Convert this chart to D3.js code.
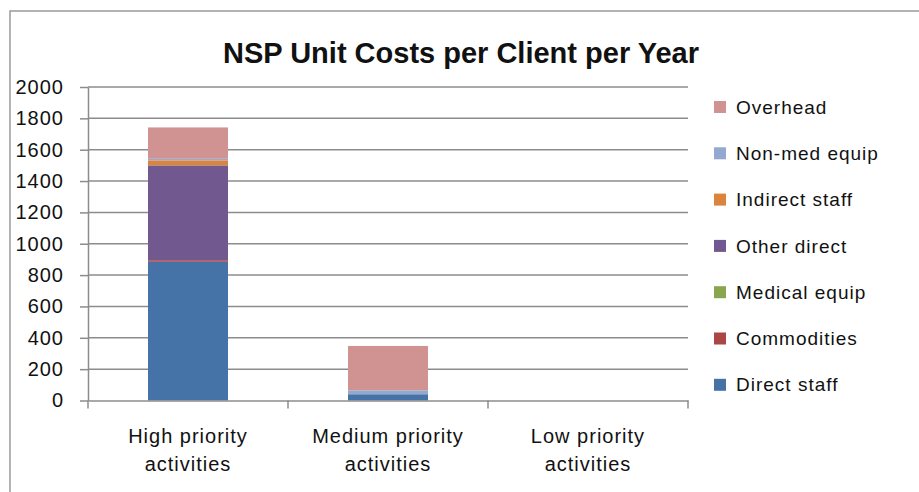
<!DOCTYPE html>
<html>
  <body style="margin:0">
    <style>
      body { background: #fff; }
      text { font-family: "Liberation Sans", Arial, sans-serif; fill: #111; }
      .tick line, .domain { stroke: #8c8c8c; stroke-width: 1.5; }
      .grid line { stroke: #8c8c8c; stroke-width: 1.5; }
      .lbl { font-size: 20px; letter-spacing: 1px; }
    </style>
    <script src="https://cdn.jsdelivr.net/npm/d3@7"></script>
    <script type="text/javascript">
      // NSP unit costs, stacked by cost type
      const categories = ['High priority activities', 'Medium priority activities', 'Low priority activities'];
      const categoryLines = [['High priority', 'activities'], ['Medium priority', 'activities'], ['Low priority', 'activities']];
      const seriesNames = ['Direct staff', 'Commodities', 'Medical equip', 'Other direct', 'Indirect staff', 'Non-med equip', 'Overhead'];
      const seriesColors = ['#4572a7', '#aa4643', '#89a54e', '#71588f', '#db843d', '#93a9cf', '#d19392'];

      const directStaff = [885, 40, 0];
      const commodities = [10, 0, 0];
      const medicalEquip = [0, 0, 0];
      const otherDirect = [605, 0, 0];
      const indirectStaff = [32, 0, 0];
      const nonMedEquip = [10, 25, 0];
      const overhead = [200, 283, 0];
      const yTicks = [0, 200, 400, 600, 800, 1000, 1200, 1400, 1600, 1800, 2000];

      const width = 919;
      const height = 492;
      const plot = { left: 88, right: 688, top: 87, bottom: 400.5 };

      const table = categories.map((c, i) => ({
        category: c,
        'Direct staff': directStaff[i],
        'Commodities': commodities[i],
        'Medical equip': medicalEquip[i],
        'Other direct': otherDirect[i],
        'Indirect staff': indirectStaff[i],
        'Non-med equip': nonMedEquip[i],
        'Overhead': overhead[i]
      }));

      const svg = d3.select('body')
        .append('svg')
        .attr('width', width)
        .attr('height', height);

      // chart frame (runs off the picture on the right and bottom)
      svg.append('rect')
        .attr('x', 10).attr('y', 11)
        .attr('width', width + 20).attr('height', height + 20)
        .attr('fill', 'none')
        .attr('stroke', '#9a9a9a')
        .attr('stroke-width', 1.5);

      svg.append('text')
        .attr('x', 461)
        .attr('y', 63)
        .attr('text-anchor', 'middle')
        .style('font-size', '29px')
        .style('font-weight', 'bold')
        .text('NSP Unit Costs per Client per Year');

      const x = d3.scaleBand()
        .domain(categories)
        .range([plot.left, plot.right])
        .paddingInner(0)
        .paddingOuter(0);

      const y = d3.scaleLinear()
        .domain([0, 2000])
        .range([plot.bottom, plot.top]);

      const color = d3.scaleOrdinal().domain(seriesNames).range(seriesColors);

      // gridlines
      svg.append('g')
        .attr('class', 'grid')
        .selectAll('line')
        .data(yTicks.slice(1))
        .enter()
        .append('line')
        .attr('x1', plot.left).attr('x2', plot.right)
        .attr('y1', (d) => y(d)).attr('y2', (d) => y(d));

      const stacked = d3.stack().keys(seriesNames)(table);
      const barWidth = x.bandwidth() * 0.4;

      svg.append('g')
        .selectAll('g')
        .data(stacked)
        .enter()
        .append('g')
        .attr('fill', (d) => color(d.key))
        .selectAll('rect')
        .data((d) => d)
        .enter()
        .append('rect')
        .attr('x', (d) => x(d.data.category) + (x.bandwidth() - barWidth) / 2)
        .attr('width', barWidth)
        .attr('y', (d) => y(d[1]))
        .attr('height', (d) => y(d[0]) - y(d[1]));

      // y axis
      const yAxis = svg.append('g')
        .attr('transform', `translate(${plot.left},0)`)
        .call(d3.axisLeft(y).tickValues(yTicks).tickFormat(d3.format('d'))
          .tickSize(8).tickPadding(16).tickSizeOuter(0));
      yAxis.selectAll('text').attr('class', 'lbl').attr('fill', '#111');

      // x axis
      const xAxis = svg.append('g')
        .attr('transform', `translate(0,${plot.bottom})`)
        .call(d3.axisBottom(x).tickSize(0).tickFormat(''));
      xAxis.selectAll('.tick').remove();
      xAxis.selectAll('.sep')
        .data(d3.range(categories.length + 1))
        .enter()
        .append('line')
        .attr('x1', (i) => plot.left + i * x.step())
        .attr('x2', (i) => plot.left + i * x.step())
        .attr('y1', 0).attr('y2', 8)
        .attr('stroke', '#8c8c8c').attr('stroke-width', 1.5);

      svg.append('g')
        .selectAll('text')
        .data(categories)
        .enter()
        .append('text')
        .attr('class', 'lbl')
        .attr('text-anchor', 'middle')
        .attr('x', (d) => x(d) + x.bandwidth() / 2)
        .attr('y', 443)
        .selectAll('tspan')
        .data((d, i) => categoryLines[i])
        .enter()
        .append('tspan')
        .attr('x', function () { return this.parentNode.getAttribute('x'); })
        .attr('dy', (d, i) => (i === 0 ? 0 : 28))
        .text((d) => d);

      // legend, reversed so top of stack is on top
      const legend = svg.append('g')
        .selectAll('g')
        .data(seriesNames.slice().reverse())
        .enter()
        .append('g')
        .attr('transform', (d, i) => `translate(714,${107 + i * 46.3})`);

      legend.append('rect')
        .attr('x', 0).attr('y', -6)
        .attr('width', 12).attr('height', 12)
        .attr('fill', (d) => color(d));

      legend.append('text')
        .attr('class', 'lbl')
        .attr('x', 22)
        .attr('dy', '0.35em')
        .style('font-size', '19px')
        .text((d) => d);
    </script>
  </body>
</html>
